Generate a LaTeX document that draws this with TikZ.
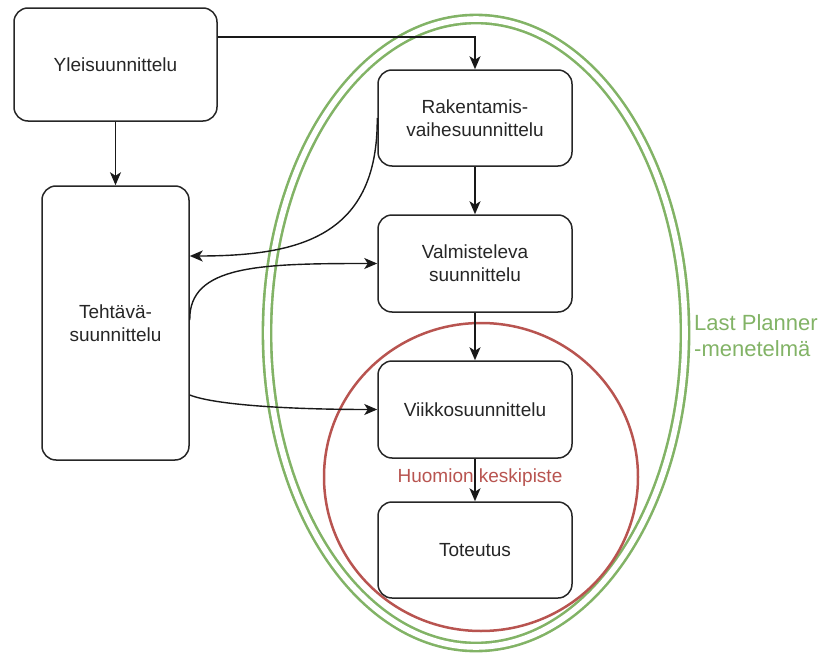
\documentclass[tikz,border=0pt]{standalone}
\usepackage{fontspec}
\setmainfont{Liberation Sans}
\usetikzlibrary{arrows.meta}
\definecolor{lpgreen}{HTML}{82B366}
\definecolor{focusred}{HTML}{B85450}

\begin{document}
\begin{tikzpicture}[x=1pt,y=-1pt,
  box/.style={draw=black!85, line width=1.5pt, rounded corners=14pt,
    align=center, inner sep=0pt, text=black!85,
    font=\fontsize{19}{23}\selectfont},
  link/.style={draw=black!90, line width=1.4pt,
    -{Stealth[length=13pt,width=11pt,inset=3.5pt]}},
]
\useasboundingbox (0,0) rectangle (823,653);

% Last Planner scope (double green ellipse) and the red focus circle
\draw[lpgreen, line width=2.6pt, double=white, double distance=5.6pt]
  (476,333) ellipse [x radius=209pt, y radius=314pt];
\draw[focusred, line width=2.5pt]
  (481,477) ellipse [x radius=157pt, y radius=154pt];

% planning levels
\node[box, minimum width=203pt, minimum height=113pt] (yleis) at (115.5,64.5) {Yleisuunnittelu};
\node[box, minimum width=147pt, minimum height=274pt] (teht)  at (115.5,323) {Tehtävä-\\suunnittelu};
\node[box, minimum width=194pt, minimum height=96pt]  (rak)   at (475,118)   {Rakentamis-\\vaihesuunnittelu};
\node[box, minimum width=194pt, minimum height=97pt]  (valm)  at (475,263.5) {Valmisteleva\\suunnittelu};
\node[box, minimum width=194pt, minimum height=97pt]  (viikko) at (475,409.5) {Viikkosuunnittelu};
\node[box, minimum width=194pt, minimum height=96pt]  (tot)   at (475,550)   {Toteutus};

% labels
\node[text=focusred, inner sep=0pt, font=\fontsize{19}{23}\selectfont] (focus) at (480,478) {Huomion keskipiste};
\node[text=lpgreen, inner sep=0pt, anchor=west, align=left,
      font=\fontsize{22}{26}\selectfont] (lp) at (694,336) {Last Planner\\-menetelmä};

% connectors
\draw[link] (yleis) -- (teht);
\draw[link] ([yshift=27.5pt]yleis.east) -| (rak);
\draw[link] (rak) -- (valm);
\draw[link] (valm) -- (viikko);
\draw[link] (viikko) -- (tot);
\draw[link] (rak.west) .. controls (378,236) and (300,256) .. ([yshift=67pt]teht.east);
\draw[link] ([yshift=3pt]teht.east) .. controls (189,265) and (260,263.5) .. (valm.west);
\draw[link] ([yshift=-72pt]teht.east) .. controls (215,405) and (290,409.5) .. (viikko.west);
\end{tikzpicture}
\end{document}
